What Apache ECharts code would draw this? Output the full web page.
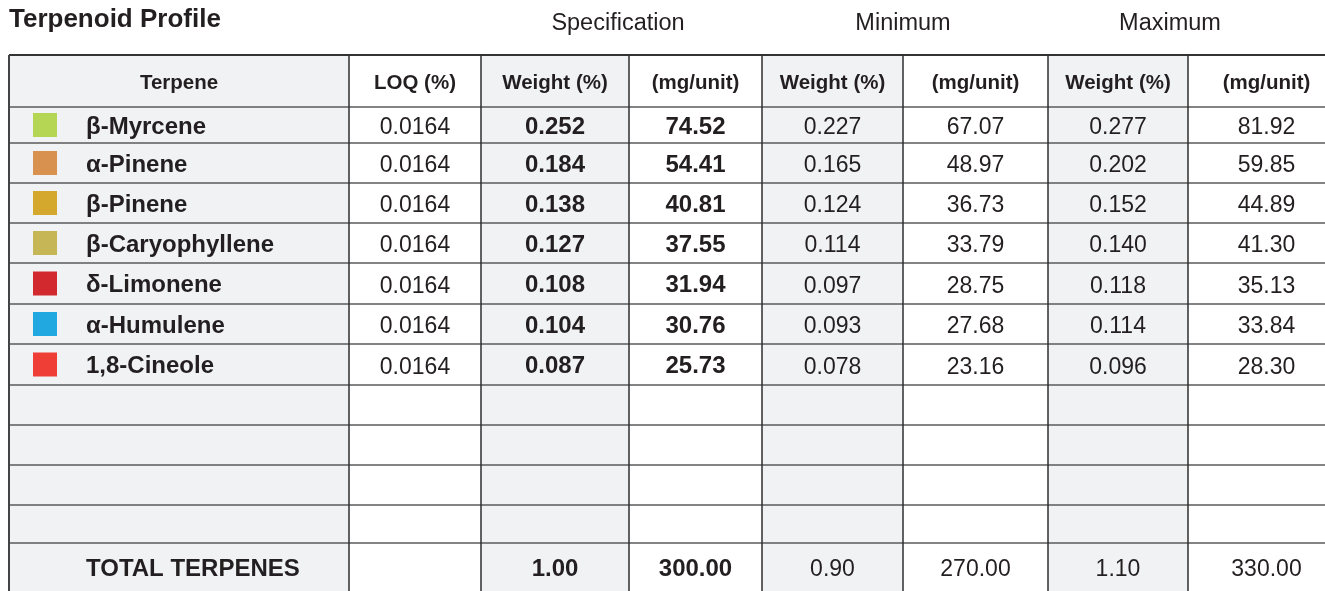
<!DOCTYPE html>
<html>
<head>
<meta charset="utf-8">
<script src="https://cdn.jsdelivr.net/npm/echarts@6/dist/echarts.min.js"></script>
<style>
html,body{margin:0;padding:0;background:#fff;}
#main{width:1325px;height:591px;}
</style>
</head>
<body>
<div id="main"></div>
<script>
// ---- data ----
const title = 'Terpenoid Profile';
const groupLabels = ['Specification', 'Minimum', 'Maximum'];
const columnHeaders = ['Terpene', 'LOQ (%)', 'Weight (%)', '(mg/unit)', 'Weight (%)', '(mg/unit)', 'Weight (%)', '(mg/unit)'];
const terpenes = ['β-Myrcene', 'α-Pinene', 'β-Pinene', 'β-Caryophyllene', 'δ-Limonene', 'α-Humulene', '1,8-Cineole'];
const swatchColors = ['#b5d655', '#d9914f', '#d3a82c', '#c6b655', '#d2292f', '#22a8e0', '#ef3e36'];
const loq = [0.0164, 0.0164, 0.0164, 0.0164, 0.0164, 0.0164, 0.0164];
const specWeight = [0.252, 0.184, 0.138, 0.127, 0.108, 0.104, 0.087];
const specMg = [74.52, 54.41, 40.81, 37.55, 31.94, 30.76, 25.73];
const minWeight = [0.227, 0.165, 0.124, 0.114, 0.097, 0.093, 0.078];
const minMg = [67.07, 48.97, 36.73, 33.79, 28.75, 27.68, 23.16];
const maxWeight = [0.277, 0.202, 0.152, 0.140, 0.118, 0.114, 0.096];
const maxMg = [81.92, 59.85, 44.89, 41.30, 35.13, 33.84, 28.30];
const totalLabel = 'TOTAL TERPENES';
const totals = [null, null, 1.00, 300.00, 0.90, 270.00, 1.10, 330.00];
const emptyRows = 4;

// ---- layout (pixel units on hidden value axes) ----
const colEdges = [9, 349, 481, 629, 762, 903, 1048, 1188, 1345];
const rowEdges = [55, 107, 143, 183, 223, 263, 304, 344, 385, 425, 465, 505, 543, 591];
const shadedCols = [0, 2, 4, 6];
const groupCenters = [618, 903, 1170];
const FONT = '"Liberation Sans", Arial, Helvetica, sans-serif';
const TEXT = '#231f20';
const HEADER_SIZE = 20.5, BOLD_SIZE = 24, REG_SIZE = 23;
const BOLD_DY = 2, REG_DY = 3;

const colsData = [loq, specWeight, specMg, minWeight, minMg, maxWeight, maxMg];
const decimals = [4, 3, 2, 3, 2, 3, 2];
const boldCols = [false, true, true, false, false, false, false];

// build cells
const cells = [];
for (let c = 0; c < 8; c++) {
  cells.push({ c: c, r: 0, text: columnHeaders[c], weight: 'bold', size: HEADER_SIZE, dy: 2 });
}
for (let i = 0; i < terpenes.length; i++) {
  const r = i + 1;
  cells.push({ c: 0, r: r, text: terpenes[i], weight: 'bold', size: BOLD_SIZE, left: true, swatch: swatchColors[i], dy: BOLD_DY });
  for (let k = 0; k < colsData.length; k++) {
    const b = boldCols[k];
    cells.push({ c: k + 1, r: r, text: colsData[k][i].toFixed(decimals[k]),
      weight: b ? 'bold' : 'normal', size: b ? BOLD_SIZE : REG_SIZE, dy: b ? BOLD_DY : REG_DY });
  }
}
for (let e = 0; e < emptyRows; e++) {
  for (let c = 0; c < 8; c++) cells.push({ c: c, r: terpenes.length + 1 + e, text: '' });
}
const totalRow = terpenes.length + 1 + emptyRows;
cells.push({ c: 0, r: totalRow, text: totalLabel, weight: 'bold', size: BOLD_SIZE, left: true, dy: BOLD_DY });
for (let c = 1; c < 8; c++) {
  const v = totals[c];
  const b = boldCols[c - 1];
  cells.push({ c: c, r: totalRow, text: v == null ? '' : v.toFixed(2), weight: b ? 'bold' : 'normal', size: b ? BOLD_SIZE : REG_SIZE, dy: b ? BOLD_DY : REG_DY });
}

const lines = [];
for (let i = 0; i < rowEdges.length - 1; i++) lines.push({ h: true, i: i });
for (let i = 0; i < colEdges.length - 1; i++) lines.push({ h: false, i: i });

const chart = echarts.init(document.getElementById('main'), null, { renderer: 'canvas' });
chart.setOption({
  animation: false,
  backgroundColor: '#ffffff',
  title: {
    text: title, left: 9, top: 7, padding: 0,
    textStyle: { fontFamily: FONT, fontWeight: 'bold', fontSize: 26, color: TEXT }
  },
  graphic: groupLabels.map((g, i) => ({
    type: 'text', x: groupCenters[i], y: 24,
    style: { text: g, fontFamily: FONT, fontSize: 23.5, fill: TEXT, align: 'center', verticalAlign: 'middle' }
  })),
  grid: { left: 0, right: 0, top: 0, bottom: 0 },
  xAxis: { type: 'value', min: 0, max: 1325, show: false },
  yAxis: { type: 'value', min: 0, max: 591, inverse: true, show: false },
  series: [
    {
      type: 'custom', clip: false, z: 1,
      data: cells.map(d => [d.c, d.r]),
      renderItem: function (params, api) {
        const d = cells[params.dataIndex];
        const c = api.value(0), r = api.value(1);
        const p0 = api.coord([colEdges[c], rowEdges[r]]);
        const p1 = api.coord([colEdges[c + 1], rowEdges[r + 1]]);
        const children = [{
          type: 'rect',
          shape: { x: p0[0], y: p0[1], width: p1[0] - p0[0], height: p1[1] - p0[1] },
          style: { fill: shadedCols.indexOf(c) >= 0 ? '#f1f2f4' : '#ffffff' }
        }];
        const cy = (p0[1] + p1[1]) / 2;
        if (d.swatch) {
          const s0 = api.coord([33, 0]), s1 = api.coord([57, 0]);
          const w = s1[0] - s0[0];
          children.push({ type: 'rect', shape: { x: s0[0], y: cy - w / 2, width: w, height: w }, style: { fill: d.swatch } });
        }
        if (d.text) {
          const tx = d.left ? api.coord([86, 0])[0] : (p0[0] + p1[0]) / 2;
          children.push({
            type: 'text',
            style: {
              text: d.text, x: tx, y: cy + (d.dy || 0),
              align: d.left ? 'left' : 'center', verticalAlign: 'middle',
              fontFamily: FONT, fontSize: d.size, fontWeight: d.weight, fill: TEXT
            }
          });
        }
        return { type: 'group', children: children };
      }
    },
    {
      type: 'custom', clip: false, z: 2,
      data: lines.map(l => [l.h ? 1 : 0, l.i]),
      renderItem: function (params, api) {
        const l = lines[params.dataIndex];
        let a, b, color, width;
        if (l.h) {
          const y = rowEdges[l.i];
          a = api.coord([colEdges[0], y]); b = api.coord([colEdges[colEdges.length - 1], y]);
          color = l.i === 0 ? '#333333' : '#5a5a5a';
          width = l.i === 0 ? 2 : 1.3;
        } else {
          const x = colEdges[l.i];
          a = api.coord([x, rowEdges[0]]); b = api.coord([x, rowEdges[rowEdges.length - 1]]);
          color = l.i === 0 ? '#444444' : '#2e2e2e';
          width = l.i === 0 ? 2 : 1.5;
        }
        return { type: 'line', shape: { x1: a[0], y1: a[1], x2: b[0], y2: b[1] }, style: { stroke: color, lineWidth: width } };
      }
    }
  ]
});
</script>
</body>
</html>
